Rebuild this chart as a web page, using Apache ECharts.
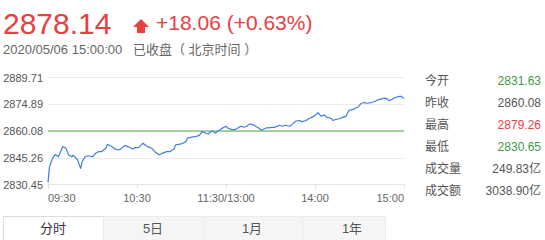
<!DOCTYPE html>
<html>
<head>
<meta charset="utf-8">
<script src="https://cdn.jsdelivr.net/npm/echarts@6/dist/echarts.min.js"></script>
<style>
html,body{margin:0;padding:0;background:#fff;}
#c{width:545px;height:240px;}
</style>
</head>
<body>
<div id="c"></div>
<script>
// ---- data ----
var minutes = [0,1,3,5,7,8,10,12,14,16,17,19,20,22,23,25,27,30,32,34,36,39,40,43,45,48,50,52,54,57,59,61,63,64,67,70,72,75,77,80,82,85,86,89,91,93,94,97,100,102,104,106,108,110,111,113,115,117,120,121,124,126,128,130,132,134,136,139,140,142,144,147,149,151,153,156,158,160,163,165,167,170,171,174,176,178,180,182,184,186,188,191,192,194,197,199,201,202,203,206,207,209,211,213,215,218,220,222,224,227,229,230,232,234,237,238,240];
var prices = [2831.63,2840.19,2844.88,2847.14,2845.82,2847.70,2851.45,2850.51,2846.76,2845.82,2846.76,2844.88,2843.95,2839.26,2843.01,2845.82,2846.39,2845.82,2847.70,2848.64,2848.64,2850.51,2852.76,2851.45,2850.14,2849.57,2850.89,2852.01,2851.45,2850.14,2850.89,2850.89,2852.39,2853.33,2851.45,2850.51,2848.64,2846.76,2847.70,2848.64,2848.64,2850.14,2852.39,2852.76,2853.33,2854.26,2856.14,2856.70,2857.08,2857.64,2859.89,2858.95,2858.39,2859.89,2859.89,2858.95,2860.27,2861.39,2862.71,2861.77,2860.83,2860.83,2861.77,2862.71,2862.14,2862.71,2864.02,2863.27,2862.71,2861.77,2860.46,2861.77,2861.77,2862.14,2862.14,2863.27,2862.71,2863.27,2862.71,2864.02,2865.52,2865.90,2865.15,2865.90,2867.02,2867.77,2868.71,2870.21,2868.33,2868.90,2867.77,2867.02,2865.90,2866.46,2867.02,2867.77,2868.33,2870.21,2871.52,2872.09,2872.65,2873.40,2875.28,2875.84,2875.46,2875.84,2876.40,2877.15,2877.71,2878.28,2877.71,2876.78,2877.71,2878.65,2879.26,2879.26,2878.14];
var prevClose = 2860.08;
var yTickLabels = ['2830.45','2845.26','2860.08','2874.89','2889.71'];
var xTickLabels = ['09:30','10:30','11:30/13:00','14:00','15:00'];
var statNames = ['今开','昨收','最高','最低','成交量','成交额'];
var statValues = ['2831.63','2860.08','2879.26','2830.65','249.83亿','3038.90亿'];
var tabNames = ['分时','5日','1月','1年'];
var headPrice = '2878.14';
var headChange = '+18.06 (+0.63%)';
var headTime = '2020/05/06 15:00:00';
var headStatus = '已收盘（ 北京时间 ）';

// ---- chart ----
var FONT = '"Liberation Sans", Arial, "Noto Sans CJK SC", sans-serif';
var RED = '#e8403f', GREEN = '#3d9b3d', GRAY = '#555';
var yMin = 2830.45, yInt = 14.815, yMax = 2889.71;

var seriesData = minutes.map(function(m, i){ return [m, prices[i]]; });
var prevData = [[minutes[0], prevClose], [minutes[minutes.length - 1], prevClose]];

var statColors = [GREEN, GRAY, RED, GREEN, GRAY, GRAY];
var graphics = [];
graphics.push({type:'text', left:3, top:8, style:{text:headPrice, fill:RED, font:'30px ' + FONT}});
graphics.push({type:'polygon', shape:{points:[[141,19],[149,27],[145,27],[145,33],[137,33],[137,27],[133,27]]}, style:{fill:RED}});
graphics.push({type:'text', left:156, top:12, style:{text:headChange, fill:RED, font:'21px ' + FONT}});
graphics.push({type:'text', left:3, top:43, style:{text:headTime, fill:'#666', font:'13px ' + FONT}});
graphics.push({type:'text', left:133, top:43, style:{text:headStatus, fill:'#666', font:'13px ' + FONT}});
statNames.forEach(function(n, i){
  var y = 81 + 22 * i;
  graphics.push({type:'text', x:425, y:y, style:{text:n, fill:GRAY, font:'12px ' + FONT, textVerticalAlign:'middle'}});
  graphics.push({type:'text', x:541, y:y, style:{text:statValues[i], fill:statColors[i], font:'12px ' + FONT, textAlign:'right', textVerticalAlign:'middle'}});
});
// tabs
var tabX = [3,103,203,302], tabW = [100,100,99,83], tabCx = [53,153,252,352];
tabNames.forEach(function(n, i){
  graphics.push({type:'rect', shape:{x:tabX[i]+0.5, y:216.5, width:tabW[i], height:30},
    style:{fill: i === 0 ? '#fff' : '#f5f5f5', stroke: i === 0 ? '#dcdcdc' : '#ebebeb', lineWidth:1}});
});
tabNames.forEach(function(n, i){
  graphics.push({type:'text', x:tabCx[i], y:228, style:{text:n, fill: i === 0 ? '#333' : GRAY, font:'13px ' + FONT, textAlign:'center', textVerticalAlign:'middle'}});
});

var chart = echarts.init(document.getElementById('c'), null, {renderer:'svg'});
chart.setOption({
  animation:false,
  grid:{left:48, right:141, top:77.5, bottom:55.5, containLabel:false},
  xAxis:{
    type:'value', min:0, max:240, interval:60,
    axisLine:{show:true, lineStyle:{color:'#e6e6e6'}},
    axisTick:{show:true, length:4, lineStyle:{color:'#e0e0e0'}},
    splitLine:{show:false},
    axisLabel:{
      color:'#666', fontSize:11, fontFamily:FONT, margin:8,
      alignMinLabel:'left', alignMaxLabel:'right',
      formatter:function(v){ return xTickLabels[Math.round(v/60)] || ''; }
    }
  },
  yAxis:{
    type:'value', min:yMin, max:yMax, interval:yInt,
    axisLine:{show:false}, axisTick:{show:false},
    splitLine:{show:true, lineStyle:{color:'#ececec'}},
    axisLabel:{
      color:GRAY, fontSize:11, fontFamily:FONT, margin:5,
      formatter:function(v){ return yTickLabels[Math.round((v - yMin)/yInt)] || ''; }
    }
  },
  series:[{
    type:'line', data:prevData, showSymbol:false, symbol:'none', silent:true,
    lineStyle:{color:'#52a452', width:1}, z:1
  },{
    type:'line', data:seriesData, showSymbol:false, symbol:'none',
    lineStyle:{color:'#3d7fdc', width:1.2}, z:2
  }],
  graphic:graphics
});
</script>
</body>
</html>
